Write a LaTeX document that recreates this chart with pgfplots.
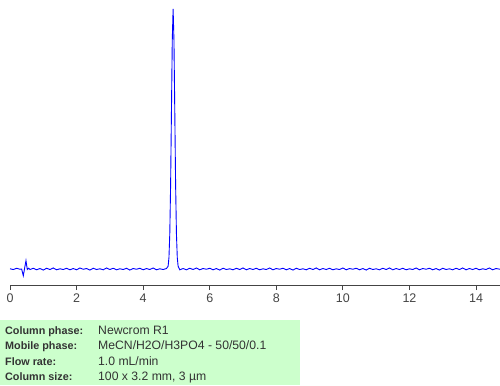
\documentclass[border=0pt]{standalone}
\usepackage{pgfplots}
\pgfplotsset{compat=1.18}
\usepackage{fontspec}
\setmainfont{Liberation Sans}
\definecolor{boxgreen}{RGB}{204,255,204}
\definecolor{axgray}{RGB}{68,68,68}
\definecolor{txtgray}{RGB}{51,51,51}
\begin{document}
\begin{tikzpicture}[x=1bp,y=1bp]
\path[use as bounding box] (0,0) rectangle (500,-385);
\fill[boxgreen] (0,-320) rectangle (300,-385);
\begin{axis}[
  at={(10bp,-285bp)}, anchor=south west,
  width=490bp, height=285bp, scale only axis,
  xmin=0, xmax=14.72, ymin=-6.15, ymax=103.46,
  axis x line=bottom, axis y line=none,
  axis line style={axgray, line width=0.8pt, -},
  xtick={0,2,4,6,8,10,12,14},
  tick style={axgray, line width=0.8pt},
  tick align=outside, major tick length=5bp,
  xticklabel style={text=axgray, font=\fontsize{12.5bp}{14bp}\selectfont, yshift=-0.5bp},
  /pgf/number format/assume math mode=true,
  clip=false,
]
\addplot[blue, line width=0.9pt, mark=none] coordinates {
(0.00,0.1) (0.10,-0.2) (0.20,0.3) (0.30,-0.1) (0.35,0.0) (0.40,-2.6) (0.44,0.4) (0.48,3.2) (0.52,-0.2) (0.56,0.3)
(0.60,-0.2) (0.70,0.3) (0.80,-0.3) (0.90,0.2) (1.00,-0.4) (1.10,0.3) (1.20,-0.2) (1.30,0.4) (1.40,-0.3) (1.50,0.1)
(1.60,-0.2) (1.70,0.3) (1.80,-0.3) (1.90,0.2) (2.00,-0.3) (2.10,0.4) (2.20,-0.1) (2.30,0.2) (2.40,-0.4) (2.50,0.3)
(2.60,-0.2) (2.70,0.1) (2.80,-0.3) (2.90,0.4) (3.00,-0.2) (3.10,0.3) (3.20,-0.3) (3.30,0.1) (3.40,-0.2) (3.50,0.3)
(3.60,-0.4) (3.70,0.2) (3.80,-0.1) (3.90,0.3) (4.00,-0.3) (4.10,0.2) (4.20,-0.2) (4.30,0.4) (4.40,-0.3) (4.50,0.1)
(4.60,-0.2) (4.70,0.2) (4.75,1.1) (4.775,4.4) (4.80,13.5) (4.825,32.5) (4.85,60.7) (4.875,88.2) (4.90,100)
(4.925,88.2) (4.95,60.7) (4.975,32.5) (5.00,13.5) (5.025,4.4) (5.05,1.1) (5.10,-0.3) (5.20,0.2)
(5.30,-0.3) (5.40,0.3) (5.50,-0.2) (5.60,0.4) (5.70,-0.3) (5.80,0.2) (5.90,-0.1) (6.00,0.3) (6.10,-0.3) (6.20,0.2)
(6.30,-0.4) (6.40,0.3) (6.50,-0.2) (6.60,0.1) (6.70,-0.3) (6.80,0.3) (6.90,-0.2) (7.00,0.4) (7.10,-0.3) (7.20,0.2)
(7.30,-0.2) (7.40,0.3) (7.50,-0.3) (7.60,0.1) (7.70,-0.2) (7.80,0.4) (7.90,-0.3) (8.00,0.2) (8.10,-0.1) (8.20,0.3)
(8.30,-0.3) (8.40,0.2) (8.50,-0.4) (8.60,0.3) (8.70,-0.2) (8.80,0.1) (8.90,-0.3) (9.00,0.3) (9.10,-0.2) (9.20,0.4)
(9.30,-0.3) (9.40,0.2) (9.50,-0.2) (9.60,0.3) (9.70,-0.3) (9.80,0.1) (9.90,-0.2) (10.00,0.4) (10.10,-0.3) (10.20,0.2)
(10.30,-0.1) (10.40,0.3) (10.50,-0.3) (10.60,0.2) (10.70,-0.4) (10.80,0.3) (10.90,-0.2) (11.00,0.1) (11.10,-0.3) (11.20,0.3)
(11.30,-0.2) (11.40,0.4) (11.50,-0.3) (11.60,0.2) (11.70,-0.2) (11.80,0.3) (11.90,-0.3) (12.00,0.1) (12.10,-0.2) (12.20,0.4)
(12.30,-0.3) (12.40,0.2) (12.50,-0.1) (12.60,0.3) (12.70,-0.3) (12.80,0.2) (12.90,-0.4) (13.00,0.3) (13.10,-0.2) (13.20,0.1)
(13.30,-0.3) (13.40,0.3) (13.50,-0.2) (13.60,0.4) (13.70,-0.3) (13.80,0.2) (13.90,-0.2) (14.00,0.3) (14.10,-0.3) (14.20,0.1)
(14.30,-0.2) (14.40,0.4) (14.50,-0.3) (14.60,0.2) (14.72,-0.1)
};
\end{axis}
\begin{scope}[every node/.style={anchor=base west, inner sep=0pt, text=txtgray}]
\begin{scope}[every node/.append style={font=\fontsize{10.8bp}{13bp}\selectfont\bfseries}]
\node at (5,-334) {Column phase:};
\node at (5,-349.5) {Mobile phase:};
\node at (5,-365) {Flow rate:};
\node at (5,-380.5) {Column size:};
\end{scope}
\begin{scope}[every node/.append style={font=\fontsize{12.2bp}{14bp}\selectfont}]
\node at (98,-334) {Newcrom R1};
\node at (98,-349.5) {MeCN/H2O/H3PO4 - 50/50/0.1};
\node at (98,-365) {1.0 mL/min};
\node at (98,-380.5) {100 x 3.2 mm, 3 µm};
\end{scope}
\end{scope}
\end{tikzpicture}
\end{document}
